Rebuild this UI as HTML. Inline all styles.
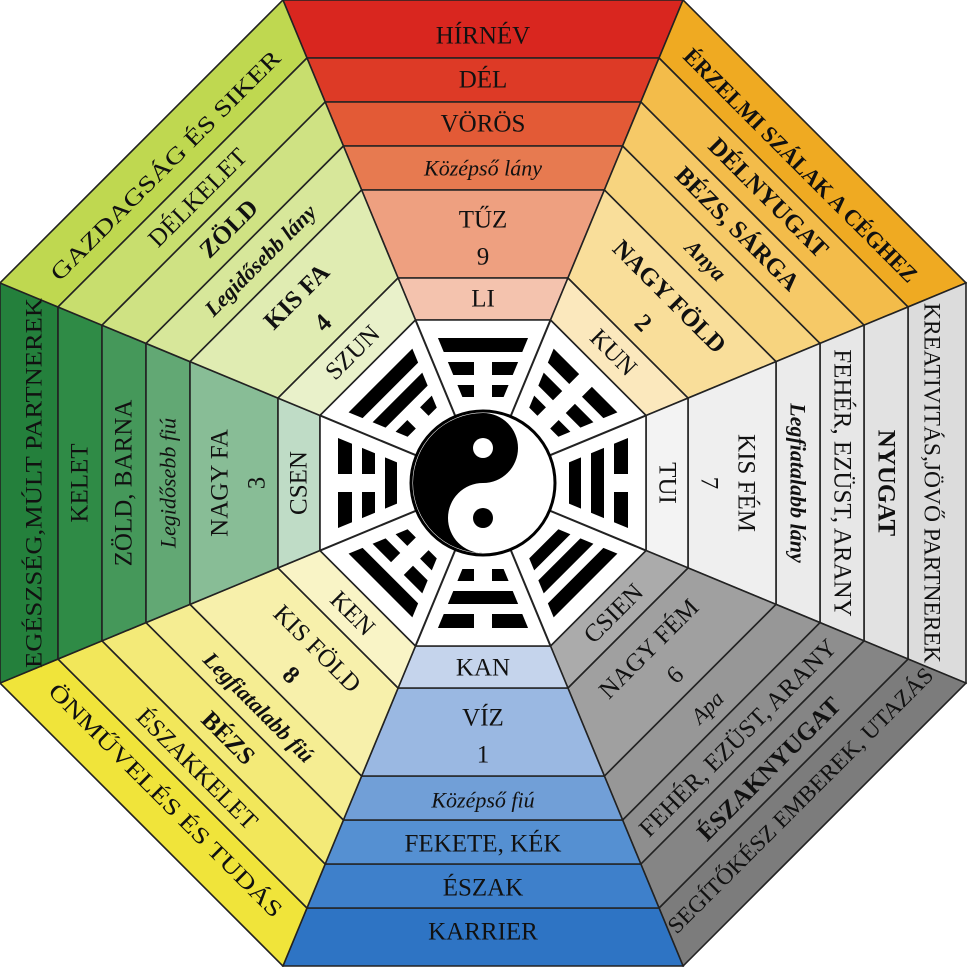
<!DOCTYPE html>
<html><head><meta charset="utf-8"><style>
html,body{margin:0;padding:0;background:#fff}
svg{display:block}
text{font-family:"Liberation Serif",serif;fill:#111;text-anchor:middle;dominant-baseline:central}
.b0{font-size:23px}.t{font-size:25px}.i{font-style:italic;font-size:22px}.bd{font-weight:bold}
</style></head><body>
<svg width="967" height="967" viewBox="0 0 967 967" xmlns="http://www.w3.org/2000/svg">
<defs>
<polygon id="p0" points="282.93,0 683.07,0 659.04,58 306.96,58"/>
<polygon id="p1" points="306.96,58 659.04,58 640.82,102 325.18,102"/>
<polygon id="p2" points="325.18,102 640.82,102 622.59,146 343.41,146"/>
<polygon id="p3" points="343.41,146 622.59,146 604.37,190 361.63,190"/>
<polygon id="p4" points="361.63,190 604.37,190 567.91,278 398.09,278"/>
<polygon id="p5" points="398.09,278 567.91,278 550.52,320 415.48,320"/>
<g id="s"><polygon points="437.94,338 528.06,338 522.26,352 443.74,352"/></g>
<g id="m"><polygon points="447.88,362 518.12,362 512.73,375 453.27,375"/></g>
<g id="n"><polygon points="457.41,385 508.59,385 503.62,397 462.38,397"/></g>
<rect id="gs" x="474" y="334" width="18" height="22" fill="#fff"/>
<rect id="gm" x="474" y="358" width="18" height="21" fill="#fff"/>
<rect id="gn" x="474" y="381" width="18" height="20" fill="#fff"/>
</defs>
<g stroke="#222" stroke-width="1.6">
<g><use href="#p0" fill="#d9261f"/><use href="#p1" fill="#dd3a26"/><use href="#p2" fill="#e35a36"/><use href="#p3" fill="#e77a50"/><use href="#p4" fill="#eea080"/><use href="#p5" fill="#f4c3ae"/></g>
<g transform="rotate(45 483 483)"><use href="#p0" fill="#efaa22"/><use href="#p1" fill="#f3bc4a"/><use href="#p2" fill="#f6c967"/><use href="#p3" fill="#f7d47f"/><use href="#p4" fill="#f9de9a"/><use href="#p5" fill="#fbe8bd"/></g>
<g transform="rotate(90 483 483)"><use href="#p0" fill="#dcdcdc"/><use href="#p1" fill="#e2e2e2"/><use href="#p2" fill="#e7e7e7"/><use href="#p3" fill="#ebebeb"/><use href="#p4" fill="#efefef"/><use href="#p5" fill="#f3f3f3"/></g>
<g transform="rotate(135 483 483)"><use href="#p0" fill="#7c7c7c"/><use href="#p1" fill="#858585"/><use href="#p2" fill="#8e8e8e"/><use href="#p3" fill="#979797"/><use href="#p4" fill="#a0a0a0"/><use href="#p5" fill="#ababab"/></g>
<g transform="rotate(180 483 483)"><use href="#p0" fill="#2e74c4"/><use href="#p1" fill="#3e80cb"/><use href="#p2" fill="#5590d2"/><use href="#p3" fill="#719fd7"/><use href="#p4" fill="#9ab8e2"/><use href="#p5" fill="#c5d4ec"/></g>
<g transform="rotate(225 483 483)"><use href="#p0" fill="#f0e43a"/><use href="#p1" fill="#f2e75a"/><use href="#p2" fill="#f3ea78"/><use href="#p3" fill="#f5ed92"/><use href="#p4" fill="#f7f0ab"/><use href="#p5" fill="#f9f4c6"/></g>
<g transform="rotate(270 483 483)"><use href="#p0" fill="#24803c"/><use href="#p1" fill="#2f8b46"/><use href="#p2" fill="#45985a"/><use href="#p3" fill="#62a874"/><use href="#p4" fill="#88bd96"/><use href="#p5" fill="#bfdcc6"/></g>
<g transform="rotate(315 483 483)"><use href="#p0" fill="#bfd850"/><use href="#p1" fill="#c8de6e"/><use href="#p2" fill="#cfe283"/><use href="#p3" fill="#d7e79a"/><use href="#p4" fill="#e0ecb2"/><use href="#p5" fill="#e9f1ca"/></g>
</g>
<polygon points="415.48,320 550.52,320 646,415.48 646,550.52 550.52,646 415.48,646 320,550.52 320,415.48" fill="#fff" stroke="#222" stroke-width="1.6"/>
<g stroke="#222" stroke-width="2">
<line x1="483" y1="483" x2="415.48" y2="320"/><line x1="483" y1="483" x2="550.52" y2="320"/>
<line x1="483" y1="483" x2="646" y2="415.48"/><line x1="483" y1="483" x2="646" y2="550.52"/>
<line x1="483" y1="483" x2="550.52" y2="646"/><line x1="483" y1="483" x2="415.48" y2="646"/>
<line x1="483" y1="483" x2="320" y2="550.52"/><line x1="483" y1="483" x2="320" y2="415.48"/>
</g>
<g fill="#000">
<g><use href="#s"/><use href="#m"/><use href="#gm"/><use href="#n"/><use href="#gn"/></g>
<g transform="rotate(45 483 483)"><use href="#s"/><use href="#gs"/><use href="#m"/><use href="#gm"/><use href="#n"/><use href="#gn"/></g>
<g transform="rotate(90 483 483)"><use href="#s"/><use href="#gs"/><use href="#m"/><use href="#n"/></g>
<g transform="rotate(135 483 483)"><use href="#s"/><use href="#m"/><use href="#n"/></g>
<g transform="rotate(180 483 483)"><use href="#s"/><use href="#gs"/><use href="#m"/><use href="#n"/><use href="#gn"/></g>
<g transform="rotate(225 483 483)"><use href="#s"/><use href="#m"/><use href="#gm"/><use href="#n"/><use href="#gn"/></g>
<g transform="rotate(270 483 483)"><use href="#s"/><use href="#gs"/><use href="#m"/><use href="#gm"/><use href="#n"/></g>
<g transform="rotate(315 483 483)"><use href="#s"/><use href="#m"/><use href="#n"/><use href="#gn"/></g>
</g>
<circle cx="483" cy="483" r="72" fill="#fff" stroke="#000" stroke-width="3"/>
<path d="M483,413 A70,70 0 0,0 483,553 A35,35 0 0,1 483,483 A35,35 0 0,0 483,413 Z" fill="#000"/>
<circle cx="483" cy="448" r="10" fill="#fff"/>
<circle cx="483" cy="518" r="10" fill="#000"/>
<g>
<text class="t" x="483" y="36">HÍRNÉV</text>
<text class="t" x="483" y="80">DÉL</text>
<text class="t" x="483" y="124">VÖRÖS</text>
<text class="i" x="483" y="168">Középső lány</text>
<text class="t" x="483" y="220">TŰZ</text>
<text class="t" x="483" y="257">9</text>
<text class="t" x="483" y="299">LI</text>
</g>
<g transform="rotate(45 483 483)">
<text class="b0 bd" x="483" y="34" textLength="320" lengthAdjust="spacingAndGlyphs">ÉRZELMI SZÁLAK A CÉGHEZ</text>
<text class="t bd" x="483" y="80">DÉLNYUGAT</text>
<text class="t bd" x="483" y="124">BÉZS, SÁRGA</text>
<text class="i bd" x="483" y="168">Anya</text>
<text class="t bd" x="483" y="220">NAGY FÖLD</text>
<text class="t bd" x="483" y="257">2</text>
<text class="t" x="483" y="299">KUN</text>
</g>
<g transform="rotate(90 483 483)">
<text class="b0" x="483" y="34" textLength="360" lengthAdjust="spacingAndGlyphs">KREATIVITÁS,JÖVŐ PARTNEREK</text>
<text class="t bd" x="483" y="80">NYUGAT</text>
<text class="t" x="483" y="124">FEHÉR, EZÜST, ARANY</text>
<text class="i bd" x="483" y="168">Legfiatalabb lány</text>
<text class="t" x="483" y="220">KIS FÉM</text>
<text class="t" x="483" y="257">7</text>
<text class="t" x="483" y="299">TUI</text>
</g>
<g transform="rotate(-90 483 483)">
<text class="b0" x="483" y="34" textLength="370" lengthAdjust="spacingAndGlyphs">EGÉSZSÉG,MÚLT PARTNEREK</text>
<text class="t" x="483" y="80">KELET</text>
<text class="t" x="483" y="124">ZÖLD, BARNA</text>
<text class="i" x="483" y="168">Legidősebb fiú</text>
<text class="t" x="483" y="220">NAGY FA</text>
<text class="t" x="483" y="257">3</text>
<text class="t" x="483" y="299">CSEN</text>
</g>
<g transform="rotate(-45 483 483)">
<text class="b0" x="483" y="34" textLength="315" lengthAdjust="spacingAndGlyphs">GAZDAGSÁG ÉS SIKER</text>
<text class="t" x="483" y="80">DÉLKELET</text>
<text class="t bd" x="483" y="124">ZÖLD</text>
<text class="i bd" x="483" y="168">Legidősebb lány</text>
<text class="t bd" x="483" y="220">KIS FA</text>
<text class="t bd" x="483" y="257">4</text>
<text class="t" x="483" y="299">SZUN</text>
</g>
<g>
<text class="t" x="483" y="932">KARRIER</text>
<text class="t" x="483" y="888">ÉSZAK</text>
<text class="t" x="483" y="844">FEKETE, KÉK</text>
<text class="i" x="483" y="800">Középső fiú</text>
<text class="t" x="483" y="718">VÍZ</text>
<text class="t" x="483" y="755">1</text>
<text class="t" x="483" y="668">KAN</text>
</g>
<g transform="rotate(-45 483 483)">
<text class="b0" x="483" y="932" textLength="365" lengthAdjust="spacingAndGlyphs">SEGÍTŐKÉSZ EMBEREK, UTAZÁS</text>
<text class="t bd" x="483" y="888">ÉSZAKNYUGAT</text>
<text class="t" x="483" y="844">FEHÉR, EZÜST, ARANY</text>
<text class="i" x="483" y="800">Apa</text>
<text class="t" x="483" y="718">NAGY FÉM</text>
<text class="t" x="483" y="755">6</text>
<text class="t" x="483" y="668">CSIEN</text>
</g>
<g transform="rotate(45 483 483)">
<text class="b0" x="483" y="932" textLength="320" lengthAdjust="spacingAndGlyphs">ÖNMŰVELÉS ÉS TUDÁS</text>
<text class="t" x="483" y="888">ÉSZAKKELET</text>
<text class="t bd" x="483" y="844">BÉZS</text>
<text class="i bd" x="483" y="800">Legfiatalabb fiú</text>
<text class="t" x="483" y="718">KIS FÖLD</text>
<text class="t bd" x="483" y="755">8</text>
<text class="t" x="483" y="668">KEN</text>
</g>
</svg>
</body></html>
